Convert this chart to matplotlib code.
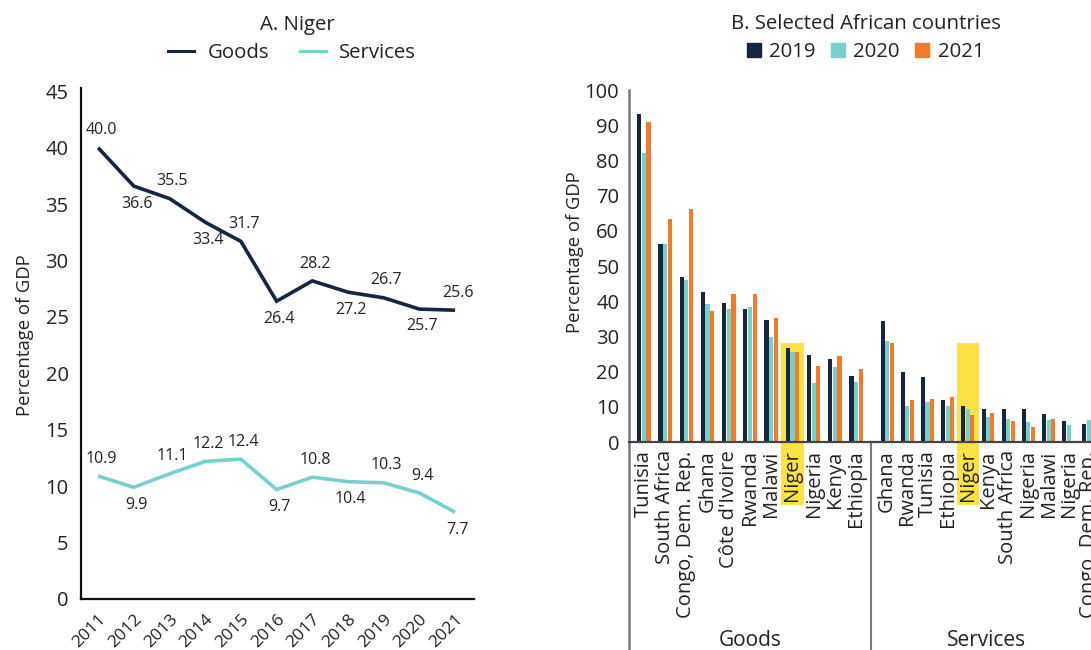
import matplotlib
matplotlib.use("Agg")
import matplotlib.pyplot as plt
import numpy as np
from matplotlib.lines import Line2D
from matplotlib.patches import Rectangle

plt.rcParams['font.family'] = ['Open Sans', 'DejaVu Sans']

NAVY = '#16263f'
TEAL = '#76d1cb'
ORANGE = '#f47a2a'
YELLOW = '#fde245'
TXT = '#222222'

# ---- Panel A data ----
years = [2011, 2012, 2013, 2014, 2015, 2016, 2017, 2018, 2019, 2020, 2021]
goods_niger = [40.0, 36.6, 35.5, 33.4, 31.7, 26.4, 28.2, 27.2, 26.7, 25.7, 25.6]
services_niger = [10.9, 9.9, 11.1, 12.2, 12.4, 9.7, 10.8, 10.4, 10.3, 9.4, 7.7]
goods_label_pos = ['a', 'b', 'a', 'b', 'a', 'b', 'a', 'b', 'a', 'b', 'a']
services_label_pos = ['a', 'b', 'a', 'a', 'a', 'b', 'a', 'b', 'a', 'a', 'b']

# ---- Panel B data ----
goods_countries = ['Tunisia', 'South Africa', 'Congo, Dem. Rep.', 'Ghana', "Côte d'Ivoire",
                   'Rwanda', 'Malawi', 'Niger', 'Nigeria', 'Kenya', 'Ethiopia']
goods_2019 = [93.2, 56.2, 46.8, 42.6, 39.4, 37.7, 34.6, 26.6, 24.6, 23.5, 18.7]
goods_2020 = [82.2, 56.2, 46.0, 39.1, 37.7, 38.3, 29.8, 25.5, 16.7, 21.2, 17.0]
goods_2021 = [90.9, 63.3, 66.2, 37.2, 42.0, 42.0, 35.2, 25.5, 21.5, 24.4, 20.7]

services_countries = ['Ghana', 'Rwanda', 'Tunisia', 'Ethiopia', 'Niger', 'Kenya',
                      'South Africa', 'Nigeria', 'Malawi', 'Nigeria', 'Congo, Dem. Rep.']
services_2019 = [34.4, 19.9, 18.5, 11.9, 10.2, 9.4, 9.4, 9.4, 8.0, 6.0, 5.1]
services_2020 = [28.7, 10.2, 11.4, 10.2, 9.4, 7.1, 6.5, 5.7, 6.3, 4.8, 6.3]
services_2021 = [28.2, 11.9, 12.2, 12.8, 7.7, 8.2, 6.0, 4.3, 6.5, 0.0, 6.0]

bar_years = ['2019', '2020', '2021']
highlight = 'Niger'
highlight_top = 28.1

fig = plt.figure(figsize=(10.91, 6.5), dpi=100)
W, H = 1091, 650

def ax_rect(x0, y0, x1, y1):
    return [x0 / W, 1 - y1 / H, (x1 - x0) / W, (y1 - y0) / H]

# ---------------- Panel A ----------------
axA = fig.add_axes(ax_rect(81, 88, 474, 599))
axA.plot(years, goods_niger, color=NAVY, lw=2.6, solid_capstyle='butt', solid_joinstyle='miter')
axA.plot(years, services_niger, color=TEAL, lw=2.6, solid_capstyle='butt', solid_joinstyle='miter')
for series, pos in ((goods_niger, goods_label_pos), (services_niger, services_label_pos)):
    for x, v, p in zip(years, series, pos):
        dy = 12.5 if p == 'a' else -12.5
        axA.annotate(f'{v:.1f}', (x, v), xytext=(2, dy), textcoords='offset points',
                     ha='center', va='center', fontsize=11.5, color=TXT)
axA.set_xlim(2010.52, 2021.53)
axA.set_ylim(0, 45.3)
axA.set_yticks(range(0, 46, 5))
axA.set_xticks(years)
axA.set_xticklabels([str(y) for y in years], rotation=45, ha='right', va='top',
                    rotation_mode='anchor', fontsize=12.5, color=TXT)
axA.tick_params(axis='y', length=0, pad=9, labelsize=14.5, labelcolor=TXT)
axA.tick_params(axis='x', length=0, pad=9)
for s in ('top', 'right'):
    axA.spines[s].set_visible(False)
for s in ('left', 'bottom'):
    axA.spines[s].set_color('#111111')
    axA.spines[s].set_linewidth(1.6)
fig.text(25 / W, 1 - 335 / H, 'Percentage of GDP', rotation=90, ha='center', va='center',
         fontsize=13.3, color=TXT)

fig.text(297 / W, 1 - 25 / H, 'A. Niger', ha='center', va='center', fontsize=14.7, color=TXT)
legA = [Line2D([], [], color=NAVY, lw=2.2), Line2D([], [], color=TEAL, lw=2.2)]
fig.legend(legA, ['Goods', 'Services'], loc='center', bbox_to_anchor=(292 / W, 1 - 53 / H),
           ncol=2, frameon=False, fontsize=14.7, handlelength=1.3, handletextpad=0.65,
           columnspacing=1.5, labelcolor=TXT)

# ---------------- Panel B ----------------
axG = fig.add_axes(ax_rect(629, 90, 871, 442))
axS = fig.add_axes(ax_rect(871, 90, 1105, 442))

off = 0.22
bw = 0.2
for ax, cats, v19, v20, v21, xl in ((axG, goods_countries, goods_2019, goods_2020, goods_2021, (-0.7, 10.7)),
                                    (axS, services_countries, services_2019, services_2020, services_2021, (-0.8, 10.8))):
    x = np.arange(len(cats))
    for i, c in enumerate(cats):
        if c == highlight:
            ax.add_patch(Rectangle((i - 0.53, -17.9), 1.06, highlight_top + 17.9,
                                   facecolor=YELLOW, edgecolor='none', zorder=0.5, clip_on=False))
    ax.bar(x - off, v19, width=bw, color=NAVY, zorder=2)
    ax.bar(x, v20, width=bw, color=TEAL, zorder=2)
    ax.bar(x + off, v21, width=bw, color=ORANGE, zorder=2)
    ax.set_xlim(*xl)
    ax.set_ylim(0, 100)
    ax.set_xticks(x)
    ax.set_xticklabels(cats, rotation=90, fontsize=14.5, color=TXT)
    ax.tick_params(axis='x', length=0, pad=6)
    for s in ('top', 'right', 'left'):
        ax.spines[s].set_visible(False)
    ax.spines['bottom'].set_color('#444444')
    ax.spines['bottom'].set_linewidth(1.6)
    ax.spines['bottom'].set_zorder(3)

axS.set_yticks([])
axG.set_yticks(range(0, 101, 10))
axG.tick_params(axis='y', length=0, pad=7, labelsize=14.5, labelcolor=TXT)
fig.text(575 / W, 1 - 252 / H, 'Percentage of GDP', rotation=90, ha='center', va='center',
         fontsize=13.3, color=TXT)

# group separators
axG.add_line(Line2D([0, 0], [-0.6, 1.0], transform=axG.transAxes, color='#7a7a7a',
                    lw=1.8, clip_on=False, zorder=3))
axG.add_line(Line2D([1, 1], [-0.6, 0.0], transform=axG.transAxes, color='#7a7a7a',
                    lw=1.5, clip_on=False, zorder=3))

fig.text(750 / W, 1 - 640 / H, 'Goods', ha='center', va='center', fontsize=15, color=TXT)
fig.text(987 / W, 1 - 640 / H, 'Services', ha='center', va='center', fontsize=15, color=TXT)

fig.text(866 / W, 1 - 24 / H, 'B. Selected African countries', ha='center', va='center',
         fontsize=14.7, color=TXT)
legB = [Line2D([], [], marker='s', color=c, linestyle='none', markersize=10)
        for c in (NAVY, TEAL, ORANGE)]
fig.legend(legB, bar_years, loc='center', bbox_to_anchor=(865 / W, 1 - 52 / H),
           ncol=3, frameon=False, fontsize=14.7, handlelength=0.8, handletextpad=0.35,
           columnspacing=0.7, labelcolor=TXT)

fig.savefig('out.png', dpi=100)
